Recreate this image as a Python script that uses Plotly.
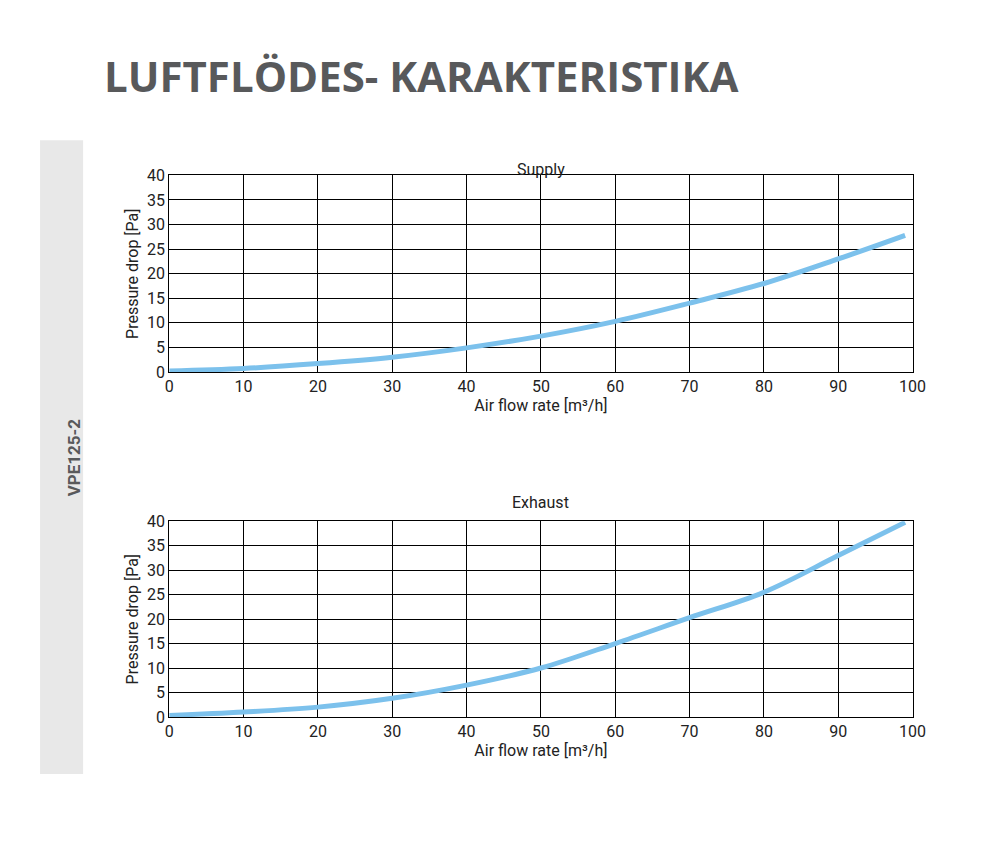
import plotly.graph_objects as go

supply_x = [0, 10, 20, 30, 40, 50, 60, 70, 80, 90, 99]
supply_y = [0.2, 0.7, 1.7, 3.0, 4.9, 7.3, 10.3, 14.0, 18.0, 23.0, 27.8]
exhaust_x = [0, 10, 20, 30, 40, 50, 60, 70, 80, 90, 99]
exhaust_y = [0.3, 1.0, 2.0, 3.8, 6.5, 10.0, 15.0, 20.3, 25.5, 33.0, 39.8]
x_ticks = [0, 10, 20, 30, 40, 50, 60, 70, 80, 90, 100]
y_ticks = [0, 5, 10, 15, 20, 25, 30, 35, 40]

W, H = 982, 850
def px(p): return ((p - 13) / 0.981) / W
def py(p): return 1 - ((p - 17) / 0.975) / H

fig = go.Figure()
fig.add_trace(go.Scatter(x=supply_x, y=supply_y, mode="lines", line=dict(color="#7cc1ec", width=5, shape="spline"), xaxis="x", yaxis="y"))
fig.add_trace(go.Scatter(x=exhaust_x, y=exhaust_y, mode="lines", line=dict(color="#7cc1ec", width=5, shape="spline"), xaxis="x2", yaxis="y2"))

xd = [px(170), px(912)]
ax = dict(range=[0, 100], tickvals=x_ticks, showgrid=True, gridcolor="black", gridwidth=1,
          showline=True, linecolor="black", mirror=True, zeroline=False, ticks="",
          tickfont=dict(size=16, color="#222"), title=dict(text="Air flow rate [m³/h]", font=dict(size=16, color="#222"), standoff=4), domain=xd)
ay = dict(range=[0, 40], tickvals=y_ticks, showgrid=True, gridcolor="black", gridwidth=1,
          showline=True, linecolor="black", mirror=True, zeroline=False, ticks="",
          tickfont=dict(size=16, color="#222"), title=dict(text="Pressure drop [Pa]", font=dict(size=16, color="#222"), standoff=4))

fig.update_layout(
    width=W, height=H, margin=dict(l=0, r=0, t=0, b=0), showlegend=False,
    paper_bgcolor="white", plot_bgcolor="white", font=dict(family="Roboto"),
    xaxis=dict(ax, anchor="y"), yaxis=dict(ay, domain=[py(371), py(175)], anchor="x"),
    xaxis2=dict(ax, anchor="y2"), yaxis2=dict(ay, domain=[py(715), py(520)], anchor="x2"),
    shapes=[dict(type="rect", xref="paper", yref="paper", x0=px(41), x1=px(84), y0=py(772), y1=py(140),
                 fillcolor="#e8e8e8", line=dict(width=0), layer="below")],
    annotations=[
        dict(text="<b>LUFTFLÖDES- KARAKTERISTIKA</b>", x=px(103), y=py(75), xref="paper", yref="paper",
             xanchor="left", yanchor="middle", showarrow=False, font=dict(size=42, color="#58595b", family="Open Sans")),
        dict(text="Supply", x=px(541), y=py(158), xref="paper", yref="paper", showarrow=False, font=dict(size=16, color="#222")),
        dict(text="Exhaust", x=px(541), y=py(501), xref="paper", yref="paper", showarrow=False, font=dict(size=16, color="#222")),
        dict(text="<b>VPE125-2</b>", x=px(63), y=py(456), xref="paper", yref="paper", showarrow=False, textangle=-90,
             font=dict(size=17, color="#58595b")),
    ],
)
fig.write_html("out.html")
